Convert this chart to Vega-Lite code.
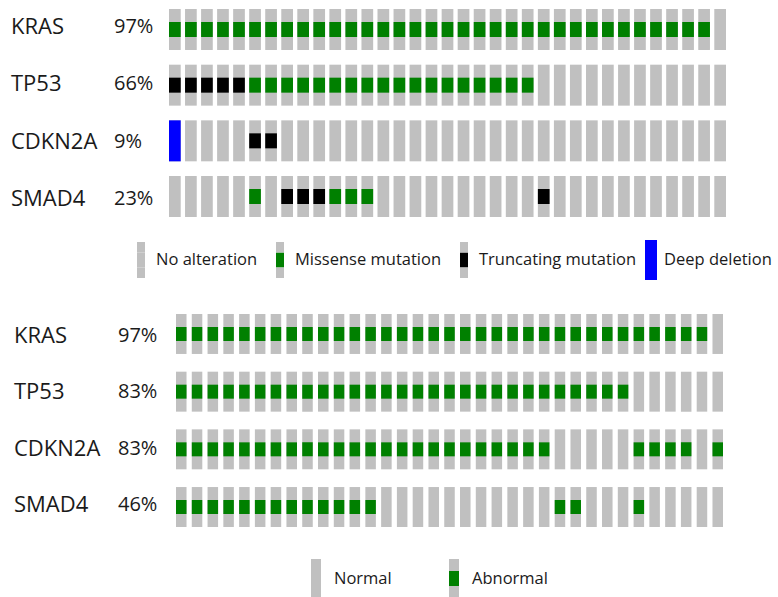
{
  "$schema": "https://vega.github.io/schema/vega-lite/v6.json",
  "padding": {"left": 11, "top": 9, "right": 0, "bottom": 0},
  "background": "white",
  "config": {"view": {"stroke": null}, "font": "Open Sans"},
  "datasets": {
    "lab1": [{"g":"KRAS","p":"97%"},{"g":"TP53","p":"66%"},{"g":"CDKN2A","p":"9%"},{"g":"SMAD4","p":"23%"}],
    "lab2": [{"g":"KRAS","p":"97%"},{"g":"TP53","p":"83%"},{"g":"CDKN2A","p":"83%"},{"g":"SMAD4","p":"46%"}],
    "top": [
      {"g":"KRAS","s":0,"t":"M"},{"g":"KRAS","s":1,"t":"M"},{"g":"KRAS","s":2,"t":"M"},{"g":"KRAS","s":3,"t":"M"},{"g":"KRAS","s":4,"t":"M"},{"g":"KRAS","s":5,"t":"M"},{"g":"KRAS","s":6,"t":"M"},{"g":"KRAS","s":7,"t":"M"},{"g":"KRAS","s":8,"t":"M"},{"g":"KRAS","s":9,"t":"M"},{"g":"KRAS","s":10,"t":"M"},{"g":"KRAS","s":11,"t":"M"},{"g":"KRAS","s":12,"t":"M"},{"g":"KRAS","s":13,"t":"M"},{"g":"KRAS","s":14,"t":"M"},{"g":"KRAS","s":15,"t":"M"},{"g":"KRAS","s":16,"t":"M"},{"g":"KRAS","s":17,"t":"M"},{"g":"KRAS","s":18,"t":"M"},{"g":"KRAS","s":19,"t":"M"},{"g":"KRAS","s":20,"t":"M"},{"g":"KRAS","s":21,"t":"M"},{"g":"KRAS","s":22,"t":"M"},{"g":"KRAS","s":23,"t":"M"},{"g":"KRAS","s":24,"t":"M"},{"g":"KRAS","s":25,"t":"M"},{"g":"KRAS","s":26,"t":"M"},{"g":"KRAS","s":27,"t":"M"},{"g":"KRAS","s":28,"t":"M"},{"g":"KRAS","s":29,"t":"M"},{"g":"KRAS","s":30,"t":"M"},{"g":"KRAS","s":31,"t":"M"},{"g":"KRAS","s":32,"t":"M"},{"g":"KRAS","s":33,"t":"M"},{"g":"KRAS","s":34,"t":"N"},
      {"g":"TP53","s":0,"t":"T"},{"g":"TP53","s":1,"t":"T"},{"g":"TP53","s":2,"t":"T"},{"g":"TP53","s":3,"t":"T"},{"g":"TP53","s":4,"t":"T"},{"g":"TP53","s":5,"t":"M"},{"g":"TP53","s":6,"t":"M"},{"g":"TP53","s":7,"t":"M"},{"g":"TP53","s":8,"t":"M"},{"g":"TP53","s":9,"t":"M"},{"g":"TP53","s":10,"t":"M"},{"g":"TP53","s":11,"t":"M"},{"g":"TP53","s":12,"t":"M"},{"g":"TP53","s":13,"t":"M"},{"g":"TP53","s":14,"t":"M"},{"g":"TP53","s":15,"t":"M"},{"g":"TP53","s":16,"t":"M"},{"g":"TP53","s":17,"t":"M"},{"g":"TP53","s":18,"t":"M"},{"g":"TP53","s":19,"t":"M"},{"g":"TP53","s":20,"t":"M"},{"g":"TP53","s":21,"t":"M"},{"g":"TP53","s":22,"t":"M"},{"g":"TP53","s":23,"t":"N"},{"g":"TP53","s":24,"t":"N"},{"g":"TP53","s":25,"t":"N"},{"g":"TP53","s":26,"t":"N"},{"g":"TP53","s":27,"t":"N"},{"g":"TP53","s":28,"t":"N"},{"g":"TP53","s":29,"t":"N"},{"g":"TP53","s":30,"t":"N"},{"g":"TP53","s":31,"t":"N"},{"g":"TP53","s":32,"t":"N"},{"g":"TP53","s":33,"t":"N"},{"g":"TP53","s":34,"t":"N"},
      {"g":"CDKN2A","s":0,"t":"D"},{"g":"CDKN2A","s":1,"t":"N"},{"g":"CDKN2A","s":2,"t":"N"},{"g":"CDKN2A","s":3,"t":"N"},{"g":"CDKN2A","s":4,"t":"N"},{"g":"CDKN2A","s":5,"t":"T"},{"g":"CDKN2A","s":6,"t":"T"},{"g":"CDKN2A","s":7,"t":"N"},{"g":"CDKN2A","s":8,"t":"N"},{"g":"CDKN2A","s":9,"t":"N"},{"g":"CDKN2A","s":10,"t":"N"},{"g":"CDKN2A","s":11,"t":"N"},{"g":"CDKN2A","s":12,"t":"N"},{"g":"CDKN2A","s":13,"t":"N"},{"g":"CDKN2A","s":14,"t":"N"},{"g":"CDKN2A","s":15,"t":"N"},{"g":"CDKN2A","s":16,"t":"N"},{"g":"CDKN2A","s":17,"t":"N"},{"g":"CDKN2A","s":18,"t":"N"},{"g":"CDKN2A","s":19,"t":"N"},{"g":"CDKN2A","s":20,"t":"N"},{"g":"CDKN2A","s":21,"t":"N"},{"g":"CDKN2A","s":22,"t":"N"},{"g":"CDKN2A","s":23,"t":"N"},{"g":"CDKN2A","s":24,"t":"N"},{"g":"CDKN2A","s":25,"t":"N"},{"g":"CDKN2A","s":26,"t":"N"},{"g":"CDKN2A","s":27,"t":"N"},{"g":"CDKN2A","s":28,"t":"N"},{"g":"CDKN2A","s":29,"t":"N"},{"g":"CDKN2A","s":30,"t":"N"},{"g":"CDKN2A","s":31,"t":"N"},{"g":"CDKN2A","s":32,"t":"N"},{"g":"CDKN2A","s":33,"t":"N"},{"g":"CDKN2A","s":34,"t":"N"},
      {"g":"SMAD4","s":0,"t":"N"},{"g":"SMAD4","s":1,"t":"N"},{"g":"SMAD4","s":2,"t":"N"},{"g":"SMAD4","s":3,"t":"N"},{"g":"SMAD4","s":4,"t":"N"},{"g":"SMAD4","s":5,"t":"M"},{"g":"SMAD4","s":6,"t":"N"},{"g":"SMAD4","s":7,"t":"T"},{"g":"SMAD4","s":8,"t":"T"},{"g":"SMAD4","s":9,"t":"T"},{"g":"SMAD4","s":10,"t":"M"},{"g":"SMAD4","s":11,"t":"M"},{"g":"SMAD4","s":12,"t":"M"},{"g":"SMAD4","s":13,"t":"N"},{"g":"SMAD4","s":14,"t":"N"},{"g":"SMAD4","s":15,"t":"N"},{"g":"SMAD4","s":16,"t":"N"},{"g":"SMAD4","s":17,"t":"N"},{"g":"SMAD4","s":18,"t":"N"},{"g":"SMAD4","s":19,"t":"N"},{"g":"SMAD4","s":20,"t":"N"},{"g":"SMAD4","s":21,"t":"N"},{"g":"SMAD4","s":22,"t":"N"},{"g":"SMAD4","s":23,"t":"T"},{"g":"SMAD4","s":24,"t":"N"},{"g":"SMAD4","s":25,"t":"N"},{"g":"SMAD4","s":26,"t":"N"},{"g":"SMAD4","s":27,"t":"N"},{"g":"SMAD4","s":28,"t":"N"},{"g":"SMAD4","s":29,"t":"N"},{"g":"SMAD4","s":30,"t":"N"},{"g":"SMAD4","s":31,"t":"N"},{"g":"SMAD4","s":32,"t":"N"},{"g":"SMAD4","s":33,"t":"N"},{"g":"SMAD4","s":34,"t":"N"}
    ],
    "bot": [
      {"g":"KRAS","s":0,"t":"A"},{"g":"KRAS","s":1,"t":"A"},{"g":"KRAS","s":2,"t":"A"},{"g":"KRAS","s":3,"t":"A"},{"g":"KRAS","s":4,"t":"A"},{"g":"KRAS","s":5,"t":"A"},{"g":"KRAS","s":6,"t":"A"},{"g":"KRAS","s":7,"t":"A"},{"g":"KRAS","s":8,"t":"A"},{"g":"KRAS","s":9,"t":"A"},{"g":"KRAS","s":10,"t":"A"},{"g":"KRAS","s":11,"t":"A"},{"g":"KRAS","s":12,"t":"A"},{"g":"KRAS","s":13,"t":"A"},{"g":"KRAS","s":14,"t":"A"},{"g":"KRAS","s":15,"t":"A"},{"g":"KRAS","s":16,"t":"A"},{"g":"KRAS","s":17,"t":"A"},{"g":"KRAS","s":18,"t":"A"},{"g":"KRAS","s":19,"t":"A"},{"g":"KRAS","s":20,"t":"A"},{"g":"KRAS","s":21,"t":"A"},{"g":"KRAS","s":22,"t":"A"},{"g":"KRAS","s":23,"t":"A"},{"g":"KRAS","s":24,"t":"A"},{"g":"KRAS","s":25,"t":"A"},{"g":"KRAS","s":26,"t":"A"},{"g":"KRAS","s":27,"t":"A"},{"g":"KRAS","s":28,"t":"A"},{"g":"KRAS","s":29,"t":"A"},{"g":"KRAS","s":30,"t":"A"},{"g":"KRAS","s":31,"t":"A"},{"g":"KRAS","s":32,"t":"A"},{"g":"KRAS","s":33,"t":"A"},{"g":"KRAS","s":34,"t":"N"},
      {"g":"TP53","s":0,"t":"A"},{"g":"TP53","s":1,"t":"A"},{"g":"TP53","s":2,"t":"A"},{"g":"TP53","s":3,"t":"A"},{"g":"TP53","s":4,"t":"A"},{"g":"TP53","s":5,"t":"A"},{"g":"TP53","s":6,"t":"A"},{"g":"TP53","s":7,"t":"A"},{"g":"TP53","s":8,"t":"A"},{"g":"TP53","s":9,"t":"A"},{"g":"TP53","s":10,"t":"A"},{"g":"TP53","s":11,"t":"A"},{"g":"TP53","s":12,"t":"A"},{"g":"TP53","s":13,"t":"A"},{"g":"TP53","s":14,"t":"A"},{"g":"TP53","s":15,"t":"A"},{"g":"TP53","s":16,"t":"A"},{"g":"TP53","s":17,"t":"A"},{"g":"TP53","s":18,"t":"A"},{"g":"TP53","s":19,"t":"A"},{"g":"TP53","s":20,"t":"A"},{"g":"TP53","s":21,"t":"A"},{"g":"TP53","s":22,"t":"A"},{"g":"TP53","s":23,"t":"A"},{"g":"TP53","s":24,"t":"A"},{"g":"TP53","s":25,"t":"A"},{"g":"TP53","s":26,"t":"A"},{"g":"TP53","s":27,"t":"A"},{"g":"TP53","s":28,"t":"A"},{"g":"TP53","s":29,"t":"N"},{"g":"TP53","s":30,"t":"N"},{"g":"TP53","s":31,"t":"N"},{"g":"TP53","s":32,"t":"N"},{"g":"TP53","s":33,"t":"N"},{"g":"TP53","s":34,"t":"N"},
      {"g":"CDKN2A","s":0,"t":"A"},{"g":"CDKN2A","s":1,"t":"A"},{"g":"CDKN2A","s":2,"t":"A"},{"g":"CDKN2A","s":3,"t":"A"},{"g":"CDKN2A","s":4,"t":"A"},{"g":"CDKN2A","s":5,"t":"A"},{"g":"CDKN2A","s":6,"t":"A"},{"g":"CDKN2A","s":7,"t":"A"},{"g":"CDKN2A","s":8,"t":"A"},{"g":"CDKN2A","s":9,"t":"A"},{"g":"CDKN2A","s":10,"t":"A"},{"g":"CDKN2A","s":11,"t":"A"},{"g":"CDKN2A","s":12,"t":"A"},{"g":"CDKN2A","s":13,"t":"A"},{"g":"CDKN2A","s":14,"t":"A"},{"g":"CDKN2A","s":15,"t":"A"},{"g":"CDKN2A","s":16,"t":"A"},{"g":"CDKN2A","s":17,"t":"A"},{"g":"CDKN2A","s":18,"t":"A"},{"g":"CDKN2A","s":19,"t":"A"},{"g":"CDKN2A","s":20,"t":"A"},{"g":"CDKN2A","s":21,"t":"A"},{"g":"CDKN2A","s":22,"t":"A"},{"g":"CDKN2A","s":23,"t":"A"},{"g":"CDKN2A","s":24,"t":"N"},{"g":"CDKN2A","s":25,"t":"N"},{"g":"CDKN2A","s":26,"t":"N"},{"g":"CDKN2A","s":27,"t":"N"},{"g":"CDKN2A","s":28,"t":"N"},{"g":"CDKN2A","s":29,"t":"A"},{"g":"CDKN2A","s":30,"t":"A"},{"g":"CDKN2A","s":31,"t":"A"},{"g":"CDKN2A","s":32,"t":"A"},{"g":"CDKN2A","s":33,"t":"N"},{"g":"CDKN2A","s":34,"t":"A"},
      {"g":"SMAD4","s":0,"t":"A"},{"g":"SMAD4","s":1,"t":"A"},{"g":"SMAD4","s":2,"t":"A"},{"g":"SMAD4","s":3,"t":"A"},{"g":"SMAD4","s":4,"t":"A"},{"g":"SMAD4","s":5,"t":"A"},{"g":"SMAD4","s":6,"t":"A"},{"g":"SMAD4","s":7,"t":"A"},{"g":"SMAD4","s":8,"t":"A"},{"g":"SMAD4","s":9,"t":"A"},{"g":"SMAD4","s":10,"t":"A"},{"g":"SMAD4","s":11,"t":"A"},{"g":"SMAD4","s":12,"t":"A"},{"g":"SMAD4","s":13,"t":"N"},{"g":"SMAD4","s":14,"t":"N"},{"g":"SMAD4","s":15,"t":"N"},{"g":"SMAD4","s":16,"t":"N"},{"g":"SMAD4","s":17,"t":"N"},{"g":"SMAD4","s":18,"t":"N"},{"g":"SMAD4","s":19,"t":"N"},{"g":"SMAD4","s":20,"t":"N"},{"g":"SMAD4","s":21,"t":"N"},{"g":"SMAD4","s":22,"t":"N"},{"g":"SMAD4","s":23,"t":"N"},{"g":"SMAD4","s":24,"t":"A"},{"g":"SMAD4","s":25,"t":"A"},{"g":"SMAD4","s":26,"t":"N"},{"g":"SMAD4","s":27,"t":"N"},{"g":"SMAD4","s":28,"t":"N"},{"g":"SMAD4","s":29,"t":"A"},{"g":"SMAD4","s":30,"t":"N"},{"g":"SMAD4","s":31,"t":"N"},{"g":"SMAD4","s":32,"t":"N"},{"g":"SMAD4","s":33,"t":"N"},{"g":"SMAD4","s":34,"t":"N"}
    ]
  },
  "spacing": 20,
  "resolve": {
    "scale": {"x": "independent", "y": "independent", "color": "independent", "fill": "independent", "size": "independent"},
    "legend": {"color": "independent", "fill": "independent", "size": "independent"}
  },
  "vconcat": [
    {
      "bounds": "flush",
      "spacing": 0,
      "resolve": {
        "scale": {"x": "independent", "y": "independent", "color": "independent", "fill": "independent", "size": "independent"},
        "legend": {"color": "independent", "fill": "independent", "size": "independent"}
      },
      "hconcat": [
        {
          "width": 158,
          "height": 208,
          "data": {"name": "lab1"},
          "transform": [{"fold": ["g", "p"], "as": ["key", "val"]}],
          "mark": {"type": "text", "align": "left", "baseline": "middle", "font": "Open Sans", "color": "#1a1a1a"},
          "encoding": {
            "x": {"field": "key", "type": "nominal", "bandPosition": 0, "axis": null, "scale": {"type": "band", "domain": ["g", "p"], "paddingInner": 0.466, "paddingOuter": 0}},
            "y": {"field": "g", "type": "nominal", "sort": ["KRAS", "TP53", "CDKN2A", "SMAD4"], "axis": null, "scale": {"type": "point", "padding": 0.32}},
            "text": {"field": "val", "type": "nominal"},
            "size": {"condition": {"test": "datum.key == 'g'", "value": 22}, "value": 20}
          }
        },
        {
          "width": 557,
          "height": 208,
          "data": {"name": "top"},
          "encoding": {
            "x": {"field": "s", "type": "ordinal", "axis": null, "scale": {"paddingInner": 0.27, "paddingOuter": 0}},
            "y": {"field": "g", "type": "nominal", "sort": ["KRAS", "TP53", "CDKN2A", "SMAD4"], "axis": null, "scale": {"paddingInner": 0.264, "paddingOuter": 0}}
          },
          "layer": [
            {"mark": {"type": "rect", "color": "#c0c0c0"}},
            {
              "transform": [{"filter": "datum.t == 'M' || datum.t == 'T'"}],
              "mark": {"type": "rect", "height": {"band": 0.366}},
              "encoding": {
                "color": {
                  "field": "t", "type": "nominal",
                  "scale": {"domain": ["N", "M", "T"], "range": ["#c0c0c0", "#008000", "#000000"]},
                  "legend": {
                    "orient": "none", "legendX": -50, "legendY": 229, "direction": "horizontal", "title": null, "padding": 0,
                    "symbolType": "M0,-1V-0.41667H0.22222V0.41667H-0.22222V-0.41667H0V0.41667V1Z",
                    "symbolSize": 1296, "symbolStrokeColor": "#c0c0c0", "symbolStrokeWidth": 8,
                    "symbolDash": [10.4, 61.2, 10.3, 1000], "symbolOpacity": 1,
                    "labelFont": "Open Sans", "labelFontSize": 16.5, "labelColor": "#1a1a1a", "labelOffset": -7, "labelLimit": 400,
                    "columnPadding": -2,
                    "labelExpr": "datum.value == 'N' ? 'No alteration' : datum.value == 'M' ? 'Missense mutation' : 'Truncating mutation'"
                  }
                }
              }
            },
            {
              "transform": [{"filter": "datum.t == 'D'"}],
              "mark": {"type": "rect"},
              "encoding": {
                "fill": {
                  "field": "t", "type": "nominal",
                  "scale": {"domain": ["D"], "range": ["#0000ff"]},
                  "legend": {
                    "orient": "none", "legendX": 462, "legendY": 231, "direction": "horizontal", "title": null, "padding": 0,
                    "symbolType": "M-0.3,-1H0.3V1H-0.3Z", "symbolSize": 1600, "symbolStrokeWidth": 0, "symbolOpacity": 1,
                    "labelFont": "Open Sans", "labelFontSize": 16.5, "labelColor": "#1a1a1a", "labelOffset": -7, "labelLimit": 400,
                    "labelExpr": "'Deep deletion'"
                  }
                }
              }
            }
          ]
        }
      ]
    },
    {
      "bounds": "flush",
      "spacing": 0,
      "resolve": {
        "scale": {"x": "independent", "y": "independent", "color": "independent", "fill": "independent", "size": "independent"},
        "legend": {"color": "independent", "fill": "independent", "size": "independent"}
      },
      "hconcat": [
        {
          "width": 165,
          "height": 213,
          "data": {"name": "lab2"},
          "transform": [{"fold": ["g", "p"], "as": ["key", "val"]}],
          "mark": {"type": "text", "align": "left", "baseline": "middle", "font": "Open Sans", "color": "#1a1a1a"},
          "encoding": {
            "x": {"field": "key", "type": "nominal", "bandPosition": 0, "axis": null, "scale": {"type": "band", "domain": ["g", "p"], "paddingInner": 0.471, "paddingOuter": 0.0288}},
            "y": {"field": "g", "type": "nominal", "sort": ["KRAS", "TP53", "CDKN2A", "SMAD4"], "axis": null, "scale": {"type": "point", "padding": 0.4}},
            "text": {"field": "val", "type": "nominal"},
            "size": {"condition": {"test": "datum.key == 'g'", "value": 22}, "value": 20}
          }
        },
        {
          "width": 547,
          "height": 213,
          "data": {"name": "bot"},
          "encoding": {
            "x": {"field": "s", "type": "ordinal", "axis": null, "scale": {"paddingInner": 0.333, "paddingOuter": 0}},
            "y": {"field": "g", "type": "nominal", "sort": ["KRAS", "TP53", "CDKN2A", "SMAD4"], "axis": null, "scale": {"paddingInner": 0.307, "paddingOuter": 0}}
          },
          "layer": [
            {"mark": {"type": "rect", "color": "#c0c0c0"}},
            {
              "transform": [{"filter": "datum.t == 'A'"}],
              "mark": {"type": "rect", "height": {"band": 0.35}},
              "encoding": {
                "color": {
                  "field": "t", "type": "nominal",
                  "scale": {"domain": ["N", "A"], "range": ["#c0c0c0", "#008000"]},
                  "legend": {
                    "orient": "none", "legendX": 115.5, "legendY": 240, "direction": "horizontal", "title": null, "padding": 0,
                    "symbolType": "M0,-1V-0.38462H0.25641V0.38462H-0.25641V-0.38462H0V0.38462V1Z",
                    "symbolSize": 1521, "symbolStrokeColor": "#c0c0c0", "symbolStrokeWidth": 10,
                    "symbolDash": [11.9, 65.2, 11.8, 1000], "symbolOpacity": 1,
                    "labelFont": "Open Sans", "labelFontSize": 16.5, "labelColor": "#1a1a1a", "labelOffset": -6.5, "labelLimit": 400,
                    "columnPadding": 36,
                    "labelExpr": "datum.value == 'N' ? 'Normal' : 'Abnormal'"
                  }
                }
              }
            }
          ]
        }
      ]
    }
  ]
}
